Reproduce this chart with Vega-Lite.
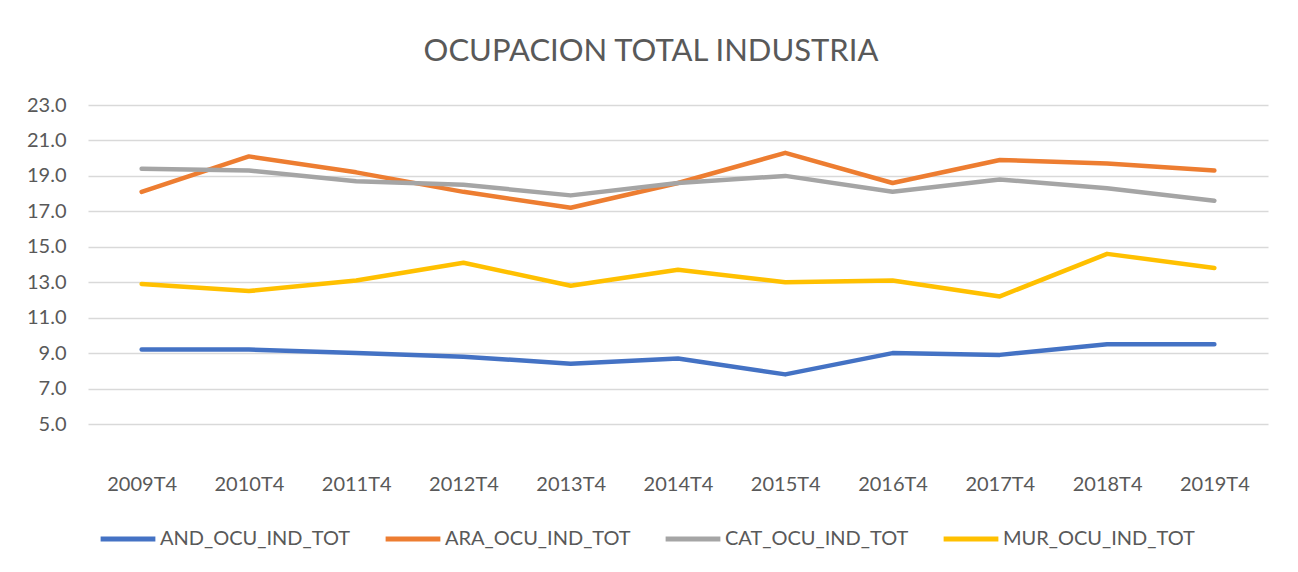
{
  "$schema": "https://vega.github.io/schema/vega-lite/v6.json",
  "width": 1180,
  "height": 319,
  "autosize": {"type": "none"},
  "padding": {"left": 88, "top": 105, "right": 30, "bottom": 148},
  "background": "white",
  "title": {
    "text": "OCUPACION TOTAL INDUSTRIA",
    "anchor": "middle",
    "dx": -27,
    "offset": 27,
    "fontSize": 31,
    "font": "Lato",
    "fontWeight": "normal",
    "color": "#595959"
  },
  "data": {
    "values": [
      {"q": "2009T4", "s": "AND_OCU_IND_TOT", "v": 9.2},
      {"q": "2010T4", "s": "AND_OCU_IND_TOT", "v": 9.2},
      {"q": "2011T4", "s": "AND_OCU_IND_TOT", "v": 9.0},
      {"q": "2012T4", "s": "AND_OCU_IND_TOT", "v": 8.8},
      {"q": "2013T4", "s": "AND_OCU_IND_TOT", "v": 8.4},
      {"q": "2014T4", "s": "AND_OCU_IND_TOT", "v": 8.7},
      {"q": "2015T4", "s": "AND_OCU_IND_TOT", "v": 7.8},
      {"q": "2016T4", "s": "AND_OCU_IND_TOT", "v": 9.0},
      {"q": "2017T4", "s": "AND_OCU_IND_TOT", "v": 8.9},
      {"q": "2018T4", "s": "AND_OCU_IND_TOT", "v": 9.5},
      {"q": "2019T4", "s": "AND_OCU_IND_TOT", "v": 9.5},
      {"q": "2009T4", "s": "ARA_OCU_IND_TOT", "v": 18.1},
      {"q": "2010T4", "s": "ARA_OCU_IND_TOT", "v": 20.1},
      {"q": "2011T4", "s": "ARA_OCU_IND_TOT", "v": 19.2},
      {"q": "2012T4", "s": "ARA_OCU_IND_TOT", "v": 18.1},
      {"q": "2013T4", "s": "ARA_OCU_IND_TOT", "v": 17.2},
      {"q": "2014T4", "s": "ARA_OCU_IND_TOT", "v": 18.6},
      {"q": "2015T4", "s": "ARA_OCU_IND_TOT", "v": 20.3},
      {"q": "2016T4", "s": "ARA_OCU_IND_TOT", "v": 18.6},
      {"q": "2017T4", "s": "ARA_OCU_IND_TOT", "v": 19.9},
      {"q": "2018T4", "s": "ARA_OCU_IND_TOT", "v": 19.7},
      {"q": "2019T4", "s": "ARA_OCU_IND_TOT", "v": 19.3},
      {"q": "2009T4", "s": "CAT_OCU_IND_TOT", "v": 19.4},
      {"q": "2010T4", "s": "CAT_OCU_IND_TOT", "v": 19.3},
      {"q": "2011T4", "s": "CAT_OCU_IND_TOT", "v": 18.7},
      {"q": "2012T4", "s": "CAT_OCU_IND_TOT", "v": 18.5},
      {"q": "2013T4", "s": "CAT_OCU_IND_TOT", "v": 17.9},
      {"q": "2014T4", "s": "CAT_OCU_IND_TOT", "v": 18.6},
      {"q": "2015T4", "s": "CAT_OCU_IND_TOT", "v": 19.0},
      {"q": "2016T4", "s": "CAT_OCU_IND_TOT", "v": 18.1},
      {"q": "2017T4", "s": "CAT_OCU_IND_TOT", "v": 18.8},
      {"q": "2018T4", "s": "CAT_OCU_IND_TOT", "v": 18.3},
      {"q": "2019T4", "s": "CAT_OCU_IND_TOT", "v": 17.6},
      {"q": "2009T4", "s": "MUR_OCU_IND_TOT", "v": 12.9},
      {"q": "2010T4", "s": "MUR_OCU_IND_TOT", "v": 12.5},
      {"q": "2011T4", "s": "MUR_OCU_IND_TOT", "v": 13.1},
      {"q": "2012T4", "s": "MUR_OCU_IND_TOT", "v": 14.1},
      {"q": "2013T4", "s": "MUR_OCU_IND_TOT", "v": 12.8},
      {"q": "2014T4", "s": "MUR_OCU_IND_TOT", "v": 13.7},
      {"q": "2015T4", "s": "MUR_OCU_IND_TOT", "v": 13.0},
      {"q": "2016T4", "s": "MUR_OCU_IND_TOT", "v": 13.1},
      {"q": "2017T4", "s": "MUR_OCU_IND_TOT", "v": 12.2},
      {"q": "2018T4", "s": "MUR_OCU_IND_TOT", "v": 14.6},
      {"q": "2019T4", "s": "MUR_OCU_IND_TOT", "v": 13.8}
    ]
  },
  "mark": {"type": "line", "strokeWidth": 4.5, "strokeCap": "round", "strokeJoin": "round"},
  "encoding": {
    "x": {
      "field": "q",
      "type": "ordinal",
      "scale": {"type": "point", "padding": 0.5},
      "axis": {
        "title": null,
        "labelAngle": 0,
        "domain": false,
        "ticks": false,
        "grid": false,
        "labelFont": "Lato",
        "labelFontSize": 20,
        "labelColor": "#595959",
        "labelPadding": 50,
        "labelBaseline": "top"
      }
    },
    "y": {
      "field": "v",
      "type": "quantitative",
      "scale": {"domain": [5, 23], "nice": false, "zero": false},
      "axis": {
        "title": null,
        "values": [5, 7, 9, 11, 13, 15, 17, 19, 21, 23],
        "format": ".1f",
        "domain": false,
        "ticks": false,
        "grid": true,
        "gridColor": "#D9D9D9",
        "gridWidth": 1.5,
        "labelFont": "Lato",
        "labelFontSize": 20,
        "labelColor": "#595959",
        "labelPadding": 22
      }
    },
    "color": {
      "field": "s",
      "type": "nominal",
      "scale": {
        "domain": ["AND_OCU_IND_TOT", "ARA_OCU_IND_TOT", "CAT_OCU_IND_TOT", "MUR_OCU_IND_TOT"],
        "range": ["#4472C4", "#ED7D31", "#A5A5A5", "#FFC000"]
      },
      "legend": {
        "title": null,
        "orient": "none",
        "legendX": 10,
        "legendY": 404,
        "direction": "horizontal",
        "symbolType": "stroke",
        "symbolSize": 3000,
        "symbolStrokeWidth": 5,
        "labelFont": "Lato",
        "labelFontSize": 20,
        "labelColor": "#595959",
        "labelOffset": 2,
        "columnPadding": 24,
        "labelLimit": 300
      }
    }
  },
  "config": {"view": {"stroke": null}}
}
